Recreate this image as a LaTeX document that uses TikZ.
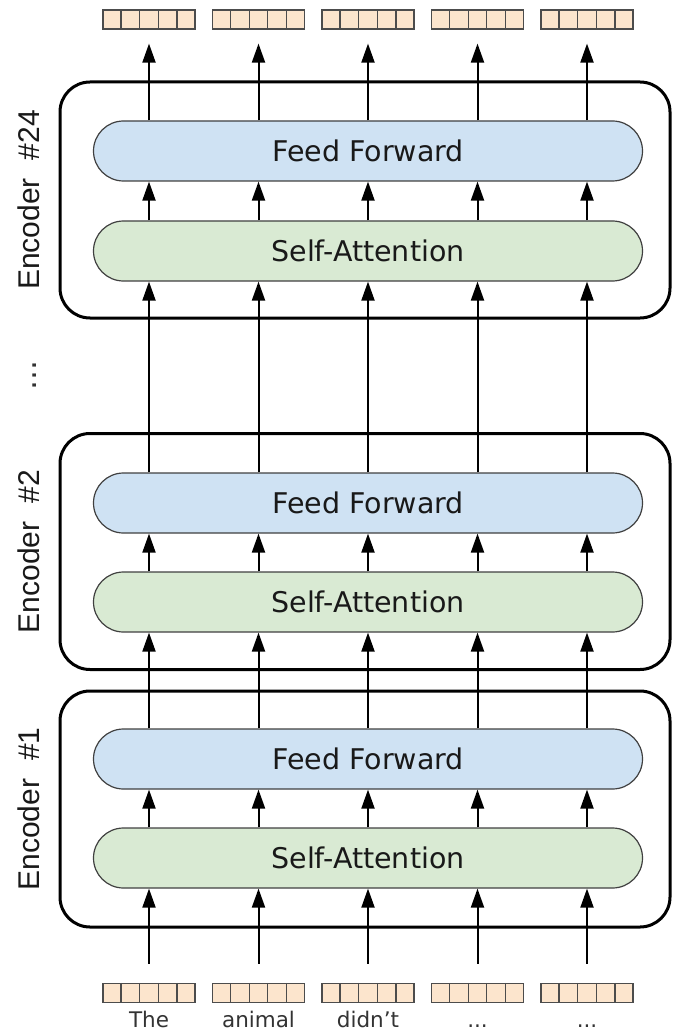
\documentclass[tikz,border=0pt]{standalone}
\usepackage{fontspec}
\setmainfont{DejaVu Sans}
\newfontfamily\arialf{Liberation Sans}
\usetikzlibrary{shapes.misc,arrows.meta,calc}
\definecolor{ffblue}{HTML}{CFE2F3}
\definecolor{sagreen}{HTML}{D9EAD3}
\definecolor{vecorange}{HTML}{FCE5CD}
\begin{document}
\begin{tikzpicture}[x=1pt,y=-1pt,
  encbox/.style={draw=black, line width=3pt, rounded corners=30pt,
    minimum width=610pt, minimum height=236pt, inner sep=0pt},
  layerbox/.style={rounded rectangle, draw=black!75, line width=1.2pt,
    minimum width=549pt, minimum height=60pt, inner sep=0pt,
    font=\fontsize{28.5}{34}\selectfont, text=black!90},
  ffbox/.style={layerbox, fill=ffblue},
  sabox/.style={layerbox, fill=sagreen},
  vecbox/.style={draw=black!70, line width=1.2pt, fill=vecorange,
    minimum width=92pt, minimum height=19pt, inner sep=0pt},
  cellline/.style={draw=black!70, line width=1.2pt},
  arr/.style={line width=2pt, -{Triangle[length=19pt,width=13pt]}},
  enclabel/.style={rotate=90, font=\arialf\fontsize{30}{36}\selectfont, text=black!90},
  wordlabel/.style={anchor=base, inner sep=0pt, font=\fontsize{21.5}{26}\selectfont, text=black!80}
]
\useasboundingbox (0,0) rectangle (673,1032);

% encoders
\node[encbox] (enc24) at (365,200) {};
\node[encbox] (enc2) at (365,551.5) {};
\node[encbox] (enc1) at (365,809) {};

\node[ffbox] (ff24) at (368,151) {Feed Forward};
\node[sabox] (sa24) at (368,251) {Self-Attention};
\node[ffbox] (ff2) at (368,503) {Feed Forward};
\node[sabox] (sa2) at (368,602) {Self-Attention};
\node[ffbox] (ff1) at (368,759) {Feed Forward};
\node[sabox] (sa1) at (368,858) {Self-Attention};

\node[enclabel] (l24) at (29,200) {Encoder\hspace{0.6em}\#24};
\node[enclabel] (l2) at (29,551.5) {Encoder\hspace{0.6em}\#2};
\node[enclabel] (l1) at (29,809) {Encoder\hspace{0.6em}\#1};
\node[rotate=90, anchor=base, inner sep=0pt, font=\fontsize{30}{36}\selectfont, text=black!80] (vdots) at (36,375) {…};

% vectors
\foreach \i/\x in {1/149,2/258.5,3/368,4/477.5,5/587}{
  \node[vecbox] (vout\i) at (\x,19.5) {};
  \node[vecbox] (vin\i) at (\x,993) {};
  \foreach \k in {1,...,4}{
    \draw[cellline] ($(vout\i.north west)!\k/5!(vout\i.north east)$) -- ($(vout\i.south west)!\k/5!(vout\i.south east)$);
    \draw[cellline] ($(vin\i.north west)!\k/5!(vin\i.north east)$) -- ($(vin\i.south west)!\k/5!(vin\i.south east)$);
  }
}
\node[wordlabel] (w1) at (149,1027.5) {The};
\node[wordlabel] (w2) at (258.5,1027.5) {animal};
\node[wordlabel] (w3) at (368,1027.5) {didn’t};
\node[wordlabel] (w4) at (477.5,1027.5) {...};
\node[wordlabel] (w5) at (587,1027.5) {...};

% connectors
\foreach \i in {1,...,5}{
  \draw[arr, shorten <=19pt] (vin\i.north) -- (sa1.south -| vin\i.north);
  \draw[arr] (sa1.north -| vin\i.north) -- (ff1.south -| vin\i.north);
  \draw[arr] (ff1.north -| vin\i.north) -- (sa2.south -| vin\i.north);
  \draw[arr] (sa2.north -| vin\i.north) -- (ff2.south -| vin\i.north);
  \draw[arr] (ff2.north -| vin\i.north) -- (sa24.south -| vin\i.north);
  \draw[arr] (sa24.north -| vin\i.north) -- (ff24.south -| vin\i.north);
  \draw[arr, shorten >=14pt] (ff24.north -| vout\i.south) -- (vout\i.south);
}
\end{tikzpicture}
\end{document}
